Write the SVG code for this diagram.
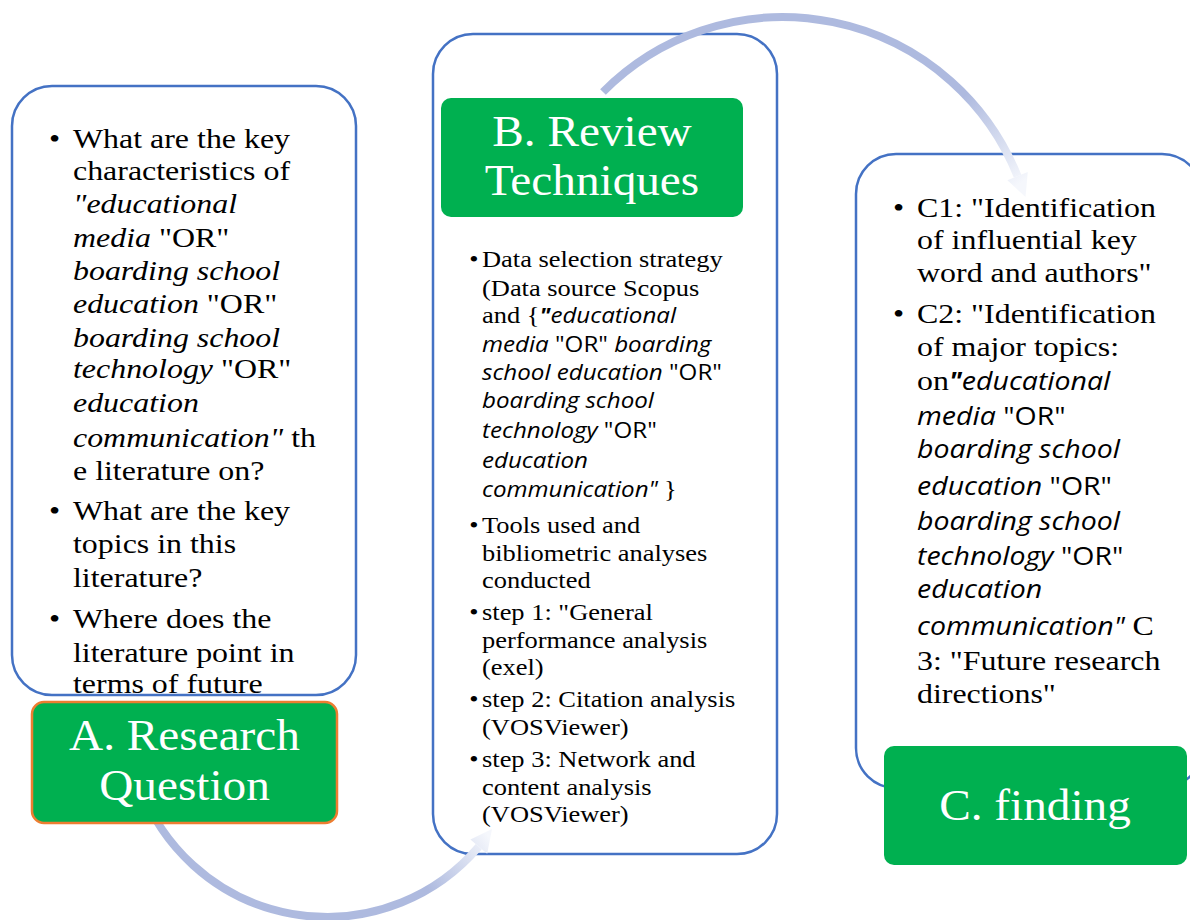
<svg xmlns="http://www.w3.org/2000/svg" width="1190" height="920" viewBox="0 0 1190 920">
  <style>
    .panel { fill: #ffffff; stroke: #4472C4; stroke-width: 2.5; }
    .title { fill: #00B050; }
    .ttl { font-family: "Liberation Serif", "Times New Roman", serif; font-size: 45px; fill: #ffffff; text-anchor: middle; }
    .body { font-family: "Liberation Serif", "Times New Roman", serif; fill: #000000; }
    .i { font-style: italic; }
    .s { font-family: "Open Sans", "Noto Sans", sans-serif; }
    .b { font-weight: bold; }
    .arc { fill: none; stroke-width: 8; stroke-linecap: butt; }
  </style>
  <defs>
    <linearGradient id="fadeTop" gradientUnits="userSpaceOnUse" x1="958" y1="100" x2="1018" y2="185">
      <stop offset="0" stop-color="#AEBADF"/>
      <stop offset="1" stop-color="#F5F7FC"/>
    </linearGradient>
    <linearGradient id="fadeBottom" gradientUnits="userSpaceOnUse" x1="422" y1="882" x2="485" y2="832">
      <stop offset="0" stop-color="#AEBADF"/>
      <stop offset="1" stop-color="#F5F7FC"/>
    </linearGradient>
  </defs>

  <rect width="1190" height="920" fill="#ffffff"/>

  <!-- outer content panels -->
  <g id="panel-a-frame">
    <rect class="panel" x="12" y="86" width="344" height="609" rx="40" ry="40"/>
  </g>
  <g id="panel-b-frame">
    <rect class="panel" x="433" y="34" width="344" height="820" rx="40" ry="40"/>
  </g>
  <g id="panel-c-frame">
    <rect class="panel" x="856" y="154" width="346" height="634" rx="40" ry="40"/>
  </g>

  <!-- circular connectors between the stages -->
  <g id="connectors">
    <path class="arc" stroke="url(#fadeBottom)" d="M 140,786 A 199 199 0 0 0 478.8,846.7"/>
    <polygon fill="url(#fadeBottom)" points="487.2,853.8 470.4,839.6 492,829"/>
    <path class="arc" stroke="url(#fadeTop)" d="M 603,92 A 253 253 0 0 1 1017.6,176.2"/>
    <polygon fill="url(#fadeTop)" points="1027.8,172.1 1007.4,180.3 1025.5,197"/>
  </g>

  <!-- A. Research Question -->
  <g id="node-a">
    <rect class="title" x="32" y="702" width="305" height="121" rx="12" ry="12" stroke="#ED7D31" stroke-width="2.5"/>
    <g transform="translate(184.5,0) scale(1.05,1)">
      <text class="ttl" x="0" y="750">A. Research</text>
      <text class="ttl" x="0" y="800">Question</text>
    </g>
    <g class="body" font-size="28" transform="translate(73,0) scale(1.14,1)">
      <text x="-21" y="148">•</text>
      <text x="0" y="148">What are the key</text>
      <text x="0" y="180">characteristics of</text>
      <text x="0" y="213"><tspan class="i">"educational</tspan></text>
      <text x="0" y="247"><tspan class="i">media </tspan>"OR"</text>
      <text x="0" y="280"><tspan class="i">boarding school</tspan></text>
      <text x="0" y="313"><tspan class="i">education </tspan>"OR"</text>
      <text x="0" y="347"><tspan class="i">boarding school</tspan></text>
      <text x="0" y="378"><tspan class="i">technology </tspan>"OR"</text>
      <text x="0" y="412"><tspan class="i">education</tspan></text>
      <text x="0" y="447"><tspan class="i">communication"</tspan> th</text>
      <text x="0" y="480">e literature on?</text>
      <text x="-21" y="520">•</text>
      <text x="0" y="520">What are the key</text>
      <text x="0" y="553">topics in this</text>
      <text x="0" y="587">literature?</text>
      <text x="-21" y="628">•</text>
      <text x="0" y="628">Where does the</text>
      <text x="0" y="662">literature point in</text>
      <text x="0" y="693">terms of future</text>
    </g>
  </g>

  <!-- B. Review Techniques -->
  <g id="node-b">
    <rect class="title" x="441" y="98" width="302" height="119" rx="10" ry="10"/>
    <g transform="translate(592,0) scale(1.05,1)">
      <text class="ttl" x="0" y="146">B. Review</text>
      <text class="ttl" x="0" y="195">Techniques</text>
    </g>
    <g class="body" font-size="23" transform="translate(482,0) scale(1.15,1)">
      <text x="-11" y="267">•</text>
      <text x="0" y="267">Data selection strategy</text>
      <text x="0" y="296">(Data source Scopus</text>
      <text x="0" y="323">and {<tspan class="s i b" font-size="21">"</tspan><tspan class="s i" font-size="21">educational</tspan></text>
      <text x="0" y="352" font-size="21"><tspan class="s i">media </tspan><tspan class="s">"OR"</tspan><tspan class="s i"> boarding</tspan></text>
      <text x="0" y="380" font-size="21"><tspan class="s i">school education </tspan><tspan class="s">"OR"</tspan></text>
      <text x="0" y="408" font-size="21"><tspan class="s i">boarding school</tspan></text>
      <text x="0" y="438" font-size="21"><tspan class="s i">technology </tspan><tspan class="s">"OR"</tspan></text>
      <text x="0" y="468" font-size="21"><tspan class="s i">education</tspan></text>
      <text x="0" y="497"><tspan class="s i" font-size="21">communication" </tspan>}</text>
      <text x="-11" y="533">•</text>
      <text x="0" y="533">Tools used and</text>
      <text x="0" y="561">bibliometric analyses</text>
      <text x="0" y="588">conducted</text>
      <text x="-11" y="620">•</text>
      <text x="0" y="620">step 1: "General</text>
      <text x="0" y="648">performance analysis</text>
      <text x="0" y="675">(exel)</text>
      <text x="-11" y="707">•</text>
      <text x="0" y="707">step 2: Citation analysis</text>
      <text x="0" y="735">(VOSViewer)</text>
      <text x="-11" y="767">•</text>
      <text x="0" y="767">step 3: Network and</text>
      <text x="0" y="795">content analysis</text>
      <text x="0" y="822">(VOSViewer)</text>
    </g>
  </g>

  <!-- C. finding -->
  <g id="node-c">
    <rect class="title" x="884" y="746" width="303" height="119" rx="10" ry="10"/>
    <g transform="translate(1035,0) scale(1.05,1)">
      <text class="ttl" x="0" y="820">C. finding</text>
    </g>
    <g class="body" font-size="28" transform="translate(917,0) scale(1.14,1)">
      <text x="-21" y="217">•</text>
      <text x="0" y="217">C1: "Identification</text>
      <text x="0" y="249">of influential key</text>
      <text x="0" y="282">word and authors"</text>
      <text x="-21" y="323">•</text>
      <text x="0" y="323">C2: "Identification</text>
      <text x="0" y="356">of major topics:</text>
      <text x="0" y="390">on<tspan class="s i b" font-size="25">"</tspan><tspan class="s i" font-size="25">educational</tspan></text>
      <text x="0" y="425" font-size="25"><tspan class="s i">media </tspan><tspan class="s">"OR"</tspan></text>
      <text x="0" y="458" font-size="25"><tspan class="s i">boarding school</tspan></text>
      <text x="0" y="495" font-size="25"><tspan class="s i">education </tspan><tspan class="s">"OR"</tspan></text>
      <text x="0" y="530" font-size="25"><tspan class="s i">boarding school</tspan></text>
      <text x="0" y="565" font-size="25"><tspan class="s i">technology </tspan><tspan class="s">"OR"</tspan></text>
      <text x="0" y="598" font-size="25"><tspan class="s i">education</tspan></text>
      <text x="0" y="635"><tspan class="s i" font-size="25">communication"</tspan> C</text>
      <text x="0" y="670">3: "Future research</text>
      <text x="0" y="703">directions"</text>
    </g>
  </g>
</svg>
